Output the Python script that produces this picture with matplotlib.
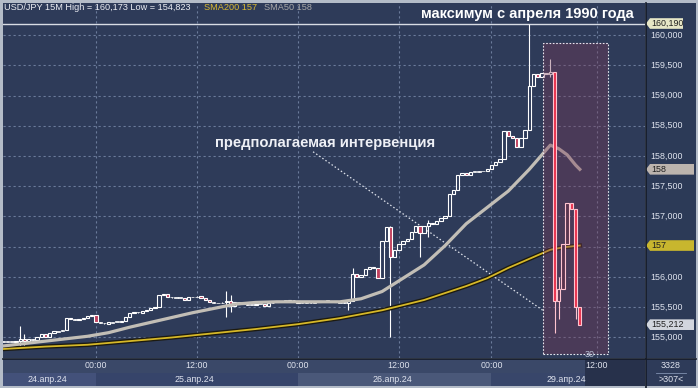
import matplotlib
matplotlib.use('Agg')
import matplotlib.pyplot as plt
from matplotlib.patches import Rectangle, Polygon
import matplotlib.patheffects as pe

plt.rcParams['font.family'] = ['Liberation Sans', 'DejaVu Sans']

# ---------------- data (30-minute slots, slot 22 = 25 Apr 00:00) ----------------
closes = [
    154.93, 154.93, 154.92, 154.94, 154.98, 154.95, 154.97, 154.96, 155.01, 155.06,
    155.00, 155.08, 155.10, 155.11, 155.12, 155.32, 155.30, 155.29, 155.31, 155.33,
    155.35, 155.37, 155.25, 155.24, 155.23, 155.25, 155.26, 155.25, 155.27, 155.34,
    155.40, 155.42, 155.41, 155.43, 155.46, 155.48, 155.50, 155.70, 155.72, 155.67,
    155.66, 155.66, 155.65, 155.62, 155.67, 155.67, 155.68, 155.66, 155.62, 155.58,
    155.57, 155.57, 155.58, 155.60, 155.52, 155.58, 155.57, 155.55, 155.54, 155.53,
    155.56, 155.55, 155.52, 155.57, 155.58, 155.60, 155.61, 155.60, 155.62, 155.61,
    155.57, 155.58, 155.57, 155.58, 155.58, 155.60, 155.61, 155.60, 155.61, 155.58,
    155.58, 155.57, 155.60, 156.05, 156.00, 156.03, 156.14, 156.17, 156.15, 155.98,
    156.60, 156.82, 156.33, 156.45, 156.55, 156.60, 156.62, 156.75, 156.85, 156.72,
    156.85, 156.90, 156.88, 156.92, 156.97, 157.00, 157.38, 157.44, 157.68, 157.72,
    157.68, 157.74, 157.74, 157.75, 157.76, 157.78, 157.85, 157.90, 157.95, 158.42,
    158.33, 158.30, 158.15, 158.30, 158.43, 159.15, 159.35, 159.30, 159.38, 159.35,
    159.39, 155.60, 155.80, 156.55, 157.22, 157.12, 155.50, 155.212,
]
first_open = 154.93

spike_slots = [4, 5, 53, 54, 82, 83, 92, 99, 101, 125, 130, 131, 132, 136]
spike_highs = [155.19, 155.05, 155.77, 155.70, 155.60, 156.15, 156.85, 156.85, 156.95, 160.19, 159.60, 159.39, 156.00, 157.12]
spike_lows = [154.84, 154.85, 155.34, 155.42, 155.45, 155.60, 155.00, 156.33, 156.66, 158.43, 159.30, 155.07, 155.30, 155.30]

sma50_slots = [0, 5, 10, 15, 20, 25, 30, 35, 40, 45, 50, 55, 60, 65, 70, 75, 80, 85, 90, 95,
               100, 105, 110, 115, 120, 125, 128, 130, 132, 134, 136, 137]
sma50_values = [154.86, 154.90, 154.94, 154.98, 155.02, 155.08, 155.17, 155.25, 155.33, 155.41,
                155.48, 155.55, 155.58, 155.59, 155.59, 155.59, 155.59, 155.64, 155.76, 155.98,
                156.20, 156.52, 156.88, 157.15, 157.42, 157.78, 158.02, 158.18, 158.12, 158.02,
                157.85, 157.78]

sma200_slots = [0, 10, 20, 30, 40, 50, 60, 70, 80, 90, 100, 110, 115, 120, 125, 130, 133, 137]
sma200_values = [154.81, 154.85, 154.88, 154.94, 155.00, 155.07, 155.14, 155.22, 155.32, 155.45,
                 155.62, 155.85, 155.98, 156.15, 156.30, 156.45, 156.49, 156.52]

price_ticks = [155.0, 155.5, 156.0, 156.5, 157.0, 157.5, 158.0, 158.5, 159.0, 159.5, 160.0]
price_tick_labels = ['155,000', '155,500', '156,000', '', '157,000', '157,500', '158,000',
                     '158,500', '159,000', '159,500', '160,000']

time_tick_slots = [22, 46, 70, 94, 116, 141]
time_tick_labels = ['00:00', '12:00', '00:00', '12:00', '00:00', '12:00']
day_bounds = [-0.1, 22, 70, 116, 152.5]
day_labels = ['24.апр.24', '25.апр.24', '26.апр.24', '29.апр.24']

high_line = 160.19
high_label = '160,190'
last_label = '155,212'
sma50_label = '158'
sma200_label = '157'

title_text = 'максимум с апреля 1990 года'
annot_text = 'предполагаемая интервенция'
header_text = 'USD/JPY 15M High = 160,173 Low = 154,823'
header_sma200 = 'SMA200 157'
header_sma50 = 'SMA50 158'

# ---------------- layout / style ----------------
W, H = 698, 388
BG = '#2e3b59'
XLIM = (-0.1, 152.5)
YLIM = (154.661, 160.529)
REGION_START = 131
annot_start = (73.6, 158.07)
annot_end = (128.2, 155.45)
rect_x = (128.2, 143.7)
rect_y = (154.73, 159.87)

fig = plt.figure(figsize=(W / 100, H / 100), dpi=100)
fig.patch.set_facecolor('#b4bcc8')

def px_axes(x0, y0, x1, y1):
    return fig.add_axes([x0 / W, 1 - y1 / H, (x1 - x0) / W, (y1 - y0) / H])

ax = px_axes(3, 3, 645, 358)
ax.set_facecolor(BG)
ax.set_xlim(*XLIM)
ax.set_ylim(*YLIM)
ax.set_xticks([])
ax.set_yticks([])
for s in ax.spines.values():
    s.set_visible(False)

grid_kw = dict(color='#6b7b9b', lw=0.8, linestyle=(0, (2, 2.5)), zorder=0.5)
for p in price_ticks:
    ax.axhline(p, **grid_kw)
for t in time_tick_slots:
    ax.axvline(t, **grid_kw)

ax.axhline(high_line, color='#d8dce4', lw=1.0, zorder=1)

# SMA lines
ax.plot(sma200_slots, sma200_values, color='#d6b828', lw=1.3, zorder=3.4,
        path_effects=[pe.Stroke(linewidth=3.2, foreground='#1c1a10'), pe.Normal()])
ax.plot(sma50_slots, sma50_values, color='#c2beb6', lw=2.3, zorder=3.5)

# candles
opens = [first_open] + closes[:-1]
for i, (o, c) in enumerate(zip(opens, closes)):
    body_lo, body_hi = min(o, c), max(o, c)
    hi, lo = body_hi, body_lo
    if i in spike_slots:
        j = spike_slots.index(i)
        hi = max(hi, spike_highs[j])
        lo = min(lo, spike_lows[j])
    in_region = i >= REGION_START
    edge = '#ffc4cf' if in_region else 'white'
    down = c < o
    if down:
        face = '#e8304c' if in_region else '#c0405e'
    else:
        face = '#5a3550' if in_region else BG
    z = 4.2 if in_region else 3
    ax.vlines(i, lo, hi, color=edge, lw=0.8, zorder=z)
    height = body_hi - body_lo
    if height < 0.012:
        ax.bar(i, 0.012, bottom=o - 0.006, width=0.8, color=edge, edgecolor=edge,
               linewidth=0.5, zorder=z + 0.05)
    else:
        ax.bar(i, height, bottom=body_lo, width=0.8, color=face, edgecolor=edge,
               linewidth=0.8, zorder=z + 0.05)

# highlight rectangle
ax.add_patch(Rectangle((rect_x[0], rect_y[0]), rect_x[1] - rect_x[0], rect_y[1] - rect_y[0],
                       facecolor='#7a3a58', alpha=0.38, edgecolor='none', zorder=3.7))
ax.add_patch(Rectangle((rect_x[0], rect_y[0]), rect_x[1] - rect_x[0], rect_y[1] - rect_y[0],
                       facecolor='none', edgecolor='#e8e8f0', lw=0.8, linestyle=(0, (1.5, 1.5)),
                       zorder=3.8))
ax.text(139.4, 154.72, '30', color='#b8c0d4', fontsize=6.5, ha='center', va='center', zorder=5)

# annotation dotted line
ax.plot([annot_start[0], annot_end[0]], [annot_start[1], annot_end[1]], color='#dfe3ec',
        lw=0.9, linestyle=(0, (1.2, 1.8)), zorder=2.5)

# header and titles
fig.text(4 / W, 1 - 8 / H, header_text, color='#eceef4', fontsize=6.6, va='center', ha='left')
fig.text(204 / W, 1 - 8 / H, header_sma200, color='#d8b832', fontsize=6.6, va='center', ha='left')
fig.text(264 / W, 1 - 8 / H, header_sma50, color='#a8a8a8', fontsize=6.6, va='center', ha='left')
fig.text(527 / W, 1 - 14 / H, title_text, color='white', fontsize=10.5, fontweight='bold',
         ha='center', va='center')
fig.text(325.5 / W, 1 - 143 / H, annot_text, color='#eef0f6', fontsize=10.7, fontweight='bold',
         ha='center', va='center')

# price panel
axp = px_axes(646, 3, 696, 358)
axp.set_facecolor('#2c3a57')
axp.set_xlim(0, 1)
axp.set_ylim(*YLIM)
axp.set_xticks([])
axp.set_yticks([])
for s in axp.spines.values():
    s.set_visible(False)
for p, lab in zip(price_ticks, price_tick_labels):
    if lab:
        axp.text(0.08, p, lab, color='#dfe3ee', fontsize=6.4, va='center', ha='left')

def tag(value, text, face, txtcol, right):
    h = 0.088
    pts = [(0.0, value), (0.08, value + h), (right, value + h), (right, value - h), (0.08, value - h)]
    axp.add_patch(Polygon(pts, closed=True, facecolor=face, edgecolor='none', zorder=5))
    axp.text(0.1, value, text, color=txtcol, fontsize=6.4, va='center', ha='left', zorder=6)

tag(high_line, high_label, '#e6e6c6', '#202020', 0.74)
tag(sma50_values[-1], sma50_label, '#bcb4ae', '#202020', 0.96)
tag(sma200_values[-1], sma200_label, '#c8b62e', '#202020', 0.96)
tag(closes[-1], last_label, '#d2d6de', '#202020', 0.96)

# separators
fig.add_artist(plt.Line2D([645.5 / W, 645.5 / W], [1 - 388 / H, 1 - 3 / H], color='#141a28', lw=1.2))
fig.add_artist(plt.Line2D([3 / W, 696 / W], [1 - 358.5 / H, 1 - 358.5 / H], color='#141a28', lw=1.2))

# time axis
axt = px_axes(3, 359, 645, 386)
axt.set_xlim(*XLIM)
axt.set_ylim(0, 2)
axt.set_facecolor('#3a4868')
axt.set_xticks([])
axt.set_yticks([])
for s in axt.spines.values():
    s.set_visible(False)
band_cols = ['#43517a', '#36446a', '#4a5879', '#38466a']
for k in range(len(day_labels)):
    axt.add_patch(Rectangle((day_bounds[k], 0), day_bounds[k + 1] - day_bounds[k], 1,
                            facecolor=band_cols[k], edgecolor='none', zorder=0.5))
    axt.text((day_bounds[k] + day_bounds[k + 1]) / 2 - 0.5, 0.5, day_labels[k], color='#dfe3ee',
             fontsize=6.4, ha='center', va='center', zorder=2)
axt.add_patch(Rectangle((len(closes) + 0.2, 0), XLIM[1] - len(closes) - 0.2, 2,
                        facecolor='#27314b', edgecolor='none', zorder=1))
for t, lab in zip(time_tick_slots, time_tick_labels):
    axt.text(t, 1.5, lab, color='#dfe3ee', fontsize=6.4, ha='center', va='center', zorder=2)

# corner box
axc = px_axes(646, 359, 696, 386)
axc.set_facecolor('#2e3b59')
axc.set_xticks([])
axc.set_yticks([])
for s in axc.spines.values():
    s.set_visible(False)
axc.text(0.5, 0.75, '3328', color='#dfe3ee', fontsize=6.4, ha='center', va='center', transform=axc.transAxes)
axc.plot([0.2, 0.8], [0.5, 0.5], color='#8090b0', lw=0.6, transform=axc.transAxes)
axc.text(0.5, 0.25, '>307<', color='#dfe3ee', fontsize=6.4, ha='center', va='center', transform=axc.transAxes)

fig.savefig('out.png', dpi=100, facecolor=fig.get_facecolor())
